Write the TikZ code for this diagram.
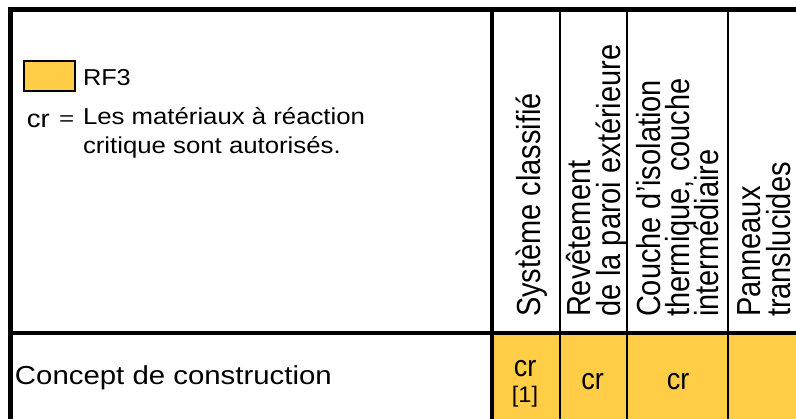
\documentclass[tikz,border=0pt]{standalone}
\usepackage{fontspec}
\setmainfont{Liberation Sans}
\definecolor{rfyellow}{RGB}{255,205,70}
\newcommand{\hstretch}[2]{\scalebox{#1}[1]{#2}}
\newcommand{\hdrtext}[1]{\scalebox{1}[1.15]{#1}}
\tikzset{
  thickrule/.style={line width=4.3pt},
  thinrule/.style={line width=1.5pt},
  lbl/.style={inner sep=0pt, outer sep=0pt, anchor=base west},
  celltxt/.style={inner sep=0pt, outer sep=0pt, anchor=base},
  hdr/.style={inner sep=0pt, outer sep=0pt, rotate=90, anchor=base west,
    font=\fontsize{29}{29}\selectfont},
}
\begin{document}
\begin{tikzpicture}[x=1pt,y=-1pt]
\useasboundingbox (0,0) rectangle (796,419);
% yellow row
\fill[rfyellow] (492,333) rectangle (796,419);
% thin column rules
\draw[thinrule] (560,9.5) -- (560,419);
\draw[thinrule] (627,9.5) -- (627,419);
\draw[thinrule] (728,9.5) -- (728,419);
% thick frame
\draw[thickrule] (10.5,419) -- (10.5,9.5) -- (796,9.5);
\draw[thickrule] (492,9.5) -- (492,419);
\draw[thickrule] (10.5,333) -- (796,333);
% legend
\node[draw, fill=rfyellow, line width=1.7pt, minimum width=51pt, minimum height=30.5pt, inner sep=0pt] (legbox) at (49.5,76) {};
\node[lbl, font=\fontsize{23}{23}\selectfont] (rf3) at (83,86) {\hstretch{1.1}{RF3}};
\node[lbl, font=\fontsize{25}{25}\selectfont] (crsym) at (27,128) {\hstretch{1.1}{cr}};
\node[lbl, font=\fontsize{20}{20}\selectfont] (eqsym) at (59,126) {\hstretch{1.3}{=}};
\node[lbl, font=\fontsize{23}{23}\selectfont] (leg1) at (83,125) {\hstretch{1.12}{Les matériaux à réaction}};
\node[lbl, font=\fontsize{23}{23}\selectfont] (leg2) at (83,154) {\hstretch{1.12}{critique sont autorisés.}};
% headers
\node[hdr] (h1) at (540,317) {\hdrtext{Système classifié}};
\node[hdr] (h2a) at (590,317) {\hdrtext{Revêtement}};
\node[hdr] (h2b) at (620,317) {\hdrtext{de la paroi extérieure}};
\node[hdr] (h3a) at (660,317) {\hdrtext{Couche d’isolation}};
\node[hdr] (h3b) at (689,317) {\hdrtext{thermique, couche}};
\node[hdr] (h3c) at (718,317) {\hdrtext{intermédiaire}};
\node[hdr] (h4a) at (760,317) {\hdrtext{Panneaux}};
\node[hdr] (h4b) at (790.5,317) {\hdrtext{translucides}};
% row
\node[lbl, font=\fontsize{26}{26}\selectfont] (row) at (15,385) {\hstretch{1.13}{Concept de construction}};
\node[celltxt, font=\fontsize{30}{30}\selectfont] (c1) at (525,377) {\hstretch{0.9}{cr}};
\node[celltxt, font=\fontsize{22.5}{22.5}\selectfont] (c1n) at (525,403) {\hstretch{1.05}{[1]}};
\node[celltxt, font=\fontsize{30}{30}\selectfont] (c2) at (592.5,390) {\hstretch{0.9}{cr}};
\node[celltxt, font=\fontsize{30}{30}\selectfont] (c3) at (678,390) {\hstretch{0.9}{cr}};
\end{tikzpicture}
\end{document}
